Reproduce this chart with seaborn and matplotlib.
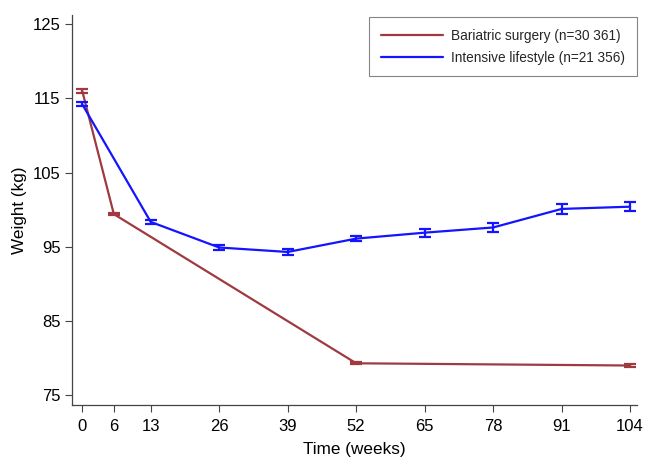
import numpy as np
import pandas as pd
import seaborn as sns
import matplotlib.pyplot as plt

# weeks and mean weight (kg) with CI half-widths
weeks_bs = [0, 6, 52, 104]
weight_bs = [116.0, 99.4, 79.3, 79.0]
err_bs = [0.3, 0.15, 0.15, 0.2]

weeks_il = [0, 13, 26, 39, 52, 65, 78, 91, 104]
weight_il = [114.2, 98.35, 94.9, 94.3, 96.1, 96.9, 97.6, 100.1, 100.4]
err_il = [0.3, 0.3, 0.3, 0.35, 0.35, 0.55, 0.6, 0.65, 0.6]

labels = ["Bariatric surgery (n=30 361)", "Intensive lifestyle (n=21 356)"]
colors = ["#9e3a40", "#1414ff"]
xticks = [0, 6, 13, 26, 39, 52, 65, 78, 91, 104]
yticks = [75, 85, 95, 105, 115, 125]

df = pd.concat([
    pd.DataFrame({"week": weeks_bs, "weight": weight_bs, "err": err_bs, "group": labels[0]}),
    pd.DataFrame({"week": weeks_il, "weight": weight_il, "err": err_il, "group": labels[1]}),
])

sns.set_style("white")
plt.rcParams['font.family'] = ['Liberation Sans', 'DejaVu Sans']

fig = plt.figure(figsize=(6.46, 4.61), dpi=100)
ax = fig.add_axes([0.111, 0.121, 0.875, 0.846])

sns.lineplot(data=df, x="week", y="weight", hue="group", palette=colors,
             linewidth=1.6, ax=ax, estimator=None)
for lab, col in zip(labels, colors):
    d = df[df.group == lab]
    ax.errorbar(d.week, d.weight, yerr=d.err, fmt="none", ecolor=col,
                elinewidth=1.6, capsize=4, capthick=1.6)

ax.set_xlim(-2, 105.3)
ax.set_ylim(73.65, 126.2)
ax.set_xticks(xticks)
ax.set_yticks(yticks)
ax.tick_params(axis='both', direction='out', length=5, width=0.8, color="#444444",
               labelsize=12, labelcolor="black", left=True, bottom=True)
ax.tick_params(axis='x', pad=5)
ax.tick_params(axis='y', pad=3)
for s in ["top", "right"]:
    ax.spines[s].set_visible(False)
for s in ["left", "bottom"]:
    ax.spines[s].set_color("#444444")
    ax.spines[s].set_linewidth(0.9)
ax.set_xlabel("Time (weeks)", fontsize=12.3, color="black", labelpad=6)
ax.set_ylabel("Weight (kg)", fontsize=12.3, color="black", labelpad=4)

leg = ax.legend(loc="upper right", fontsize=9.8, frameon=True, fancybox=False,
                edgecolor="#666666", handlelength=4.6, handletextpad=0.6,
                borderpad=0.85, labelspacing=0.6,
                bbox_to_anchor=(1.0, 0.995), borderaxespad=0)
leg.get_frame().set_linewidth(0.8)

plt.savefig("out.png", dpi=100)
